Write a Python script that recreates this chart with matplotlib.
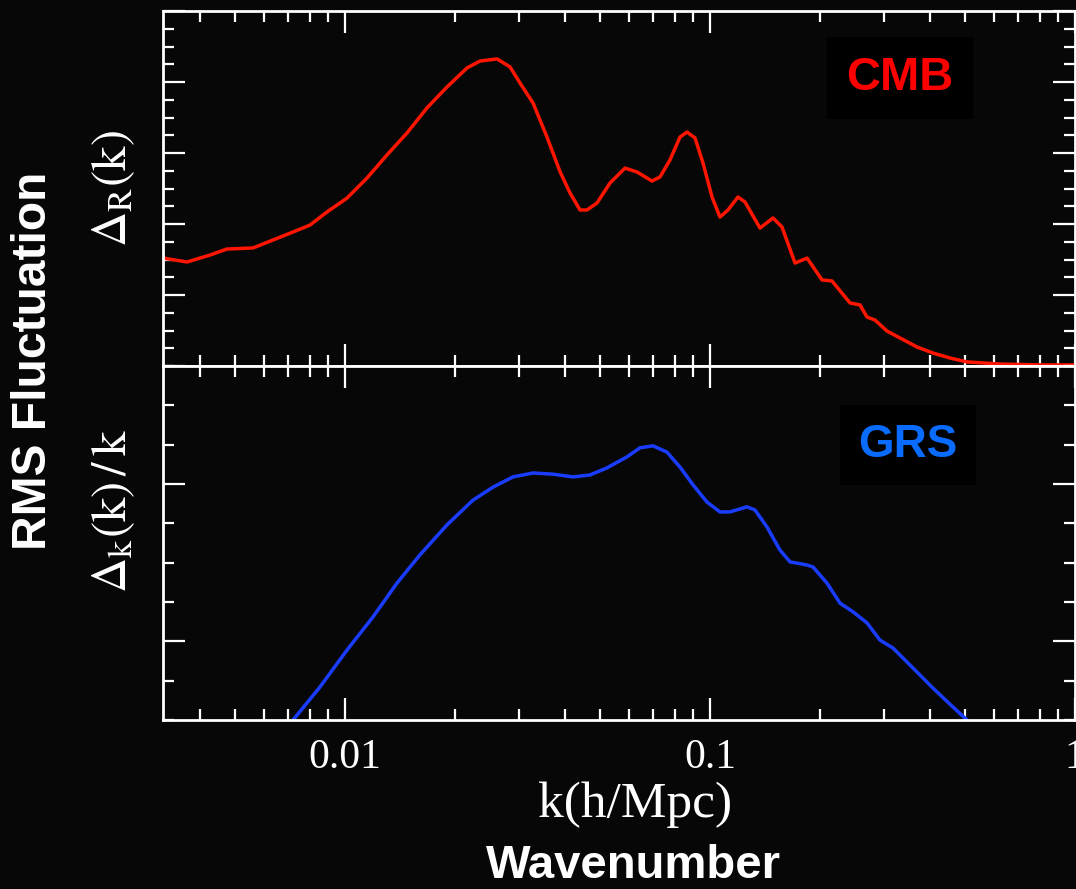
import numpy as np
import matplotlib
matplotlib.use("Agg")
import matplotlib.pyplot as plt
from matplotlib.ticker import MultipleLocator, FixedLocator, LogLocator, NullFormatter

plt.rcParams['mathtext.fontset'] = 'stix'

# CMB curve (top panel)
cmb_k = [0.003172, 0.003692, 0.004266, 0.004750, 0.005597, 0.006350, 0.007205, 0.008019,
         0.008928, 0.01013, 0.01149, 0.01303, 0.01479, 0.01677, 0.01903, 0.02159,
         0.02343, 0.02609, 0.02832, 0.03017, 0.03274, 0.03576, 0.03882, 0.04134,
         0.04404, 0.04603, 0.04901, 0.05322, 0.05850, 0.06310, 0.06936, 0.07295,
         0.07770, 0.08276, 0.08650, 0.09097, 0.09568, 0.1013, 0.1065, 0.1120,
         0.1193, 0.1247, 0.1371, 0.1488, 0.1575, 0.1710, 0.1845, 0.2027, 0.2159,
         0.2419, 0.2576, 0.2692, 0.2832, 0.3054, 0.3315, 0.3692, 0.4083, 0.4545,
         0.5060, 0.6231, 0.8019, 1.0]
cmb_val = [6.08, 5.86, 6.25, 6.59, 6.65, 7.10, 7.55, 7.94,
           8.68, 9.46, 10.59, 11.89, 13.13, 14.54, 15.72, 16.79,
           17.18, 17.30, 16.85, 15.94, 14.82, 12.90, 10.95, 9.75,
           8.79, 8.79, 9.18, 10.31, 11.15, 10.93, 10.42, 10.65,
           11.61, 12.90, 13.18, 12.85, 11.44, 9.52, 8.39, 8.79,
           9.52, 9.24, 7.77, 8.34, 7.83, 5.80, 6.08, 4.85, 4.79,
           3.55, 3.44, 2.76, 2.59, 1.97, 1.58, 1.07, 0.73, 0.45,
           0.23, 0.11, 0.06, 0.06]

# galaxy redshift survey curve (bottom panel)
grs_k = [0.007205, 0.008541, 0.01013, 0.01193, 0.01388, 0.01605, 0.01903, 0.02242,
         0.02544, 0.02885, 0.03274, 0.03714, 0.04214, 0.04690, 0.05222, 0.05924,
         0.06431, 0.06979, 0.07625, 0.08276, 0.08981, 0.09811, 0.1065, 0.1134,
         0.1263, 0.1328, 0.1432, 0.1555, 0.1657, 0.1845, 0.1915, 0.2092, 0.2271,
         0.2465, 0.2692, 0.2923, 0.3172, 0.3600, 0.4083, 0.4631, 0.5060]
grs_val = [0.0, 0.84, 1.78, 2.62, 3.48, 4.20, 4.96, 5.59,
           5.92, 6.18, 6.28, 6.25, 6.18, 6.23, 6.41, 6.69,
           6.92, 6.97, 6.81, 6.43, 5.98, 5.54, 5.29, 5.29,
           5.42, 5.34, 4.91, 4.32, 4.02, 3.94, 3.89, 3.48, 2.97,
           2.75, 2.47, 2.03, 1.83, 1.32, 0.81, 0.33, 0.0]

x_ticks = [0.01, 0.1, 1]
x_ticklabels = ['0.01', '0.1', '1']

bg = '#070707'
W, H = 1076, 889
fig = plt.figure(figsize=(W / 100, H / 100), dpi=100, facecolor=bg)

ax1 = fig.add_axes([162.5 / W, 1 - 366 / H, 912.5 / W, 355 / H])
ax2 = fig.add_axes([162.5 / W, 1 - 720 / H, 912.5 / W, 354 / H])

for ax in (ax1, ax2):
    ax.set_facecolor(bg)
    ax.set_xscale('log')
    ax.set_xlim(10 ** -2.5, 1)
    for s in ax.spines.values():
        s.set_color('white')
        s.set_linewidth(2)
    ax.xaxis.set_major_locator(FixedLocator(x_ticks))
    ax.xaxis.set_minor_locator(LogLocator(base=10, subs=np.arange(2, 10)))
    ax.xaxis.set_minor_formatter(NullFormatter())
    ax.yaxis.set_minor_locator(MultipleLocator(1))
    ax.tick_params(which='both', direction='in', top=True, right=True,
                   color='white', width=1.6)
    ax.tick_params(which='major', length=16)
    ax.tick_params(which='minor', length=8)
    ax.tick_params(axis='y', labelleft=False)

ax1.plot(cmb_k, cmb_val, color='#ff1500', lw=2.5, solid_joinstyle='round')
ax1.set_ylim(0, 20)
ax1.yaxis.set_major_locator(MultipleLocator(4))
ax1.tick_params(axis='x', labelbottom=False)

ax2.plot(grs_k, grs_val, color='#1a3cff', lw=2.5, solid_joinstyle='round')
ax2.set_ylim(0, 9)
ax2.yaxis.set_major_locator(FixedLocator([2, 6]))
ax2.set_xticks(x_ticks)
ax2.set_xticklabels(x_ticklabels, fontfamily='Liberation Serif', fontsize=30, color='white')
ax2.tick_params(axis='x', which='major', pad=13)

# labels
fig.text(635 / W, 1 - 805 / H, 'k(h/Mpc)', fontfamily='Liberation Serif', fontsize=37,
         color='white', ha='center', va='center')
fig.text(633 / W, 1 - 866 / H, 'Wavenumber', fontfamily='Liberation Sans', fontweight='bold',
         fontsize=34, color='white', ha='center', va='center')
fig.text(34 / W, 1 - 361 / H, 'RMS Fluctuation', fontfamily='Liberation Sans', fontweight='bold',
         fontsize=34.5, color='white', ha='center', va='center', rotation=90)
fig.text(113 / W, 1 - 188 / H, r'$\Delta_{\mathrm{R}}(\mathrm{k})$', fontsize=35,
         color='white', ha='center', va='center', rotation=90)
fig.text(113 / W, 1 - 511 / H, r'$\Delta_{\mathrm{k}}(\mathrm{k})\,/\,\mathrm{k}$', fontsize=35,
         color='white', ha='center', va='center', rotation=90)

# panel tags in black boxes
fig.text(900 / W, 1 - 78 / H, 'CMB', fontfamily='Liberation Sans', fontweight='bold',
         fontsize=34, color='#ff0000', ha='center', va='center',
         bbox=dict(facecolor='black', edgecolor='none', boxstyle='square,pad=0.4'))
fig.text(908 / W, 1 - 445 / H, 'GRS', fontfamily='Liberation Sans', fontweight='bold',
         fontsize=33, color='#0a6cff', ha='center', va='center',
         bbox=dict(facecolor='black', edgecolor='none', boxstyle='square,pad=0.4'))

fig.savefig('out.png', dpi=100, facecolor=bg)
